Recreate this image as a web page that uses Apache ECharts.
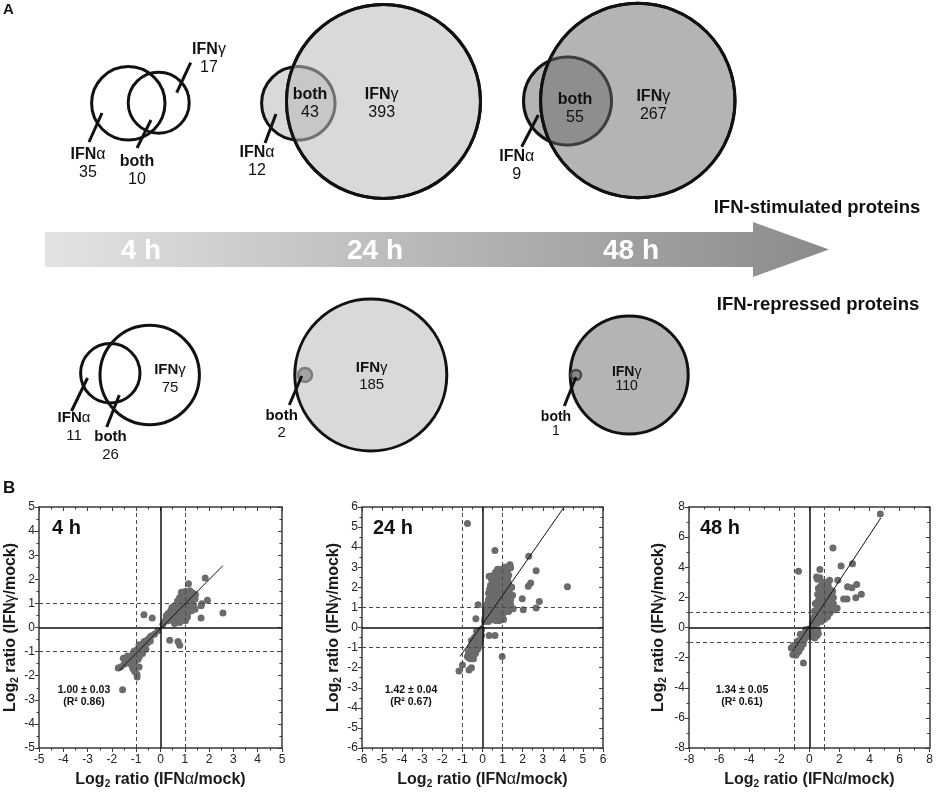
<!DOCTYPE html>
<html>
<head>
<meta charset="utf-8">
<script src="https://cdn.jsdelivr.net/npm/echarts/dist/echarts.min.js"></script>
<style>
  html, body { margin: 0; padding: 0; background: #fff; }
  #chart { width: 936px; height: 797px; }
</style>
</head>
<body>
<div id="chart"></div>
<script>
const FONT = "Liberation Sans, Arial, sans-serif";

// ---- panel A: protein counts per time point ----
const timeLabels = ["4 h", "24 h", "48 h"];
const stimAlphaOnly = [35, 12, 9];
const stimBoth = [10, 43, 55];
const stimGammaOnly = [17, 393, 267];
const repAlphaOnly = [11, null, null];
const repBoth = [26, 2, 1];
const repGammaOnly = [75, 185, 110];

// ---- panel B: log2 ratios (IFNa/mock, IFNg/mock) ----
const pts4h = [
  [1.84,2.05],[1.15,1.82],[1.93,1.13],[1.70,0.99],[1.67,0.90],[2.57,0.60],[1.67,0.39],
  [-0.68,0.53],[-0.34,0.39],[0.38,-0.53],[0.72,-0.58],[0.79,-0.74],[-1.56,-2.58],[-0.96,-2.05],[-1.74,-1.68],
  [0.86,1.46],[1.03,1.50],[1.21,1.53],[1.35,1.42],[1.44,1.36],[1.28,1.25],[1.11,1.28],[0.93,1.32],
  [0.79,1.25],[0.75,1.11],[0.93,1.14],[1.14,1.11],[1.31,1.11],[1.42,1.18],[1.25,0.94],[1.07,0.94],
  [0.89,0.97],[0.69,0.97],[0.58,0.90],[0.47,0.83],[0.65,0.76],[0.83,0.81],[1.03,0.76],[1.21,0.83],
  [1.35,0.90],[1.14,0.63],[0.97,0.58],[0.79,0.63],[0.58,0.67],[0.42,0.69],[0.31,0.58],[0.24,0.49],
  [0.38,0.44],[0.56,0.49],[0.72,0.42],[0.93,0.42],[1.11,0.44],[1.03,0.28],[0.83,0.31],[0.65,0.28],
  [0.47,0.31],[0.31,0.28],[0.17,0.25],[0.24,0.39],[0.10,0.14],[0.58,0.17],[0.79,0.21],[1.42,0.76],
  [1.28,0.69],[1.07,0.56],[0.97,0.83],[0.70,1.10],[1.00,1.40],[0.52,0.60],[0.88,0.68],[1.18,1.00],
  [-0.11,-0.14],[-0.25,-0.28],[-0.39,-0.35],[-0.46,-0.44],[-0.56,-0.53],[-0.67,-0.58],[-0.53,-0.63],
  [-0.74,-0.69],[-0.64,-0.76],[-0.83,-0.83],[-0.88,-0.72],[-0.94,-0.90],[-0.81,-0.97],[-1.01,-1.04],
  [-1.08,-0.97],[-1.15,-1.14],[-0.97,-1.14],[-1.22,-1.25],[-1.29,-1.32],[-1.11,-1.32],[-1.36,-1.39],
  [-1.43,-1.46],[-1.50,-1.53],[-1.25,-1.50],[-1.06,-1.46],[-0.92,-1.32],[-0.74,-1.08],[-0.60,-0.90],
  [-1.53,-1.28],[-1.36,-1.18],[-1.15,-1.67],[-1.06,-1.83],[-0.97,-1.94],[-1.11,-1.74],[-1.64,-1.64],
  [-0.88,-1.64],[-0.42,-0.56],[-0.86,-1.18],[-1.20,-1.42],[-0.70,-0.85]
];
const pts24h = [
  [-0.75,5.18],[0.62,3.83],[2.30,3.55],[2.67,2.83],[4.23,2.03],[2.40,2.22],[2.28,2.05],[1.98,1.43],
  [2.83,1.30],[2.67,0.97],[2.03,0.88],[1.53,0.93],[1.37,3.13],[1.40,2.97],[0.33,2.55],[0.45,2.47],
  [-0.22,1.13],[-0.33,0.43],[0.33,-0.40],[0.62,-0.40],[0.98,-1.45],[-1.17,-2.17],[-1.00,-1.87],
  [-0.67,-2.12],[-0.55,-2.00],[1.45,2.00],[1.25,0.97],
  [0.10,0.30],[0.15,0.50],[0.20,0.70],[0.25,0.40],[0.30,0.60],[0.35,0.90],[0.40,0.50],[0.45,0.80],
  [0.50,0.40],[0.55,0.70],[0.60,0.55],[0.65,0.35],[0.70,0.60],[0.80,0.50],[0.90,0.45],[0.95,0.70],
  [0.20,1.00],[0.25,1.20],[0.30,1.40],[0.35,1.10],[0.40,1.30],[0.45,1.60],[0.50,1.00],[0.55,1.20],
  [0.60,1.45],[0.65,0.95],[0.70,1.20],[0.75,1.50],[0.80,0.90],[0.85,1.15],[0.90,1.40],[1.00,1.00],
  [1.05,1.25],[1.10,0.85],[1.20,1.10],[1.30,0.80],[0.30,1.70],[0.35,1.90],[0.40,2.10],[0.45,1.80],
  [0.50,2.00],[0.55,2.30],[0.60,1.75],[0.65,2.10],[0.70,2.40],[0.75,1.85],[0.80,2.15],[0.85,2.50],
  [0.90,1.80],[0.95,2.20],[1.00,2.60],[1.05,1.90],[1.10,2.30],[1.15,2.00],[1.20,2.70],[1.25,2.40],
  [1.30,2.20],[1.35,1.70],[0.55,2.60],[0.65,2.75],[0.80,2.80],[0.95,2.90],[1.10,3.00],[1.25,2.85],
  [1.35,3.10],[0.45,2.40],[1.40,1.40],[1.50,1.60],[1.20,1.50],[1.10,1.70],[1.45,2.00],[0.75,0.75],
  [0.85,0.35],[1.00,0.60],[0.90,0.60],[1.05,0.40],
  [0.15,0.80],[0.20,0.55],[0.25,0.85],[0.30,1.05],[0.35,0.70],[0.40,0.95],[0.45,1.15],[0.50,0.75],
  [0.50,1.40],[0.55,0.95],[0.60,1.15],[0.65,1.60],[0.70,0.85],[0.75,1.10],[0.80,1.30],[0.85,0.80],
  [0.90,1.00],[0.95,1.50],[1.00,1.30],[1.05,0.75],[1.15,1.35],[0.35,1.45],[0.40,1.75],[0.45,2.00],
  [0.50,1.65],[0.55,1.85],[0.60,2.05],[0.65,2.35],[0.70,1.75],[0.75,2.10],[0.80,1.60],[0.85,1.90],
  [0.90,2.35],[0.95,1.65],[1.00,2.05],[1.05,2.45],[1.10,2.00],[1.15,2.55],[1.20,2.20],[1.25,1.90],
  [1.30,2.60],[1.15,1.40],[0.60,2.45],[0.70,2.60],[0.85,2.65],[1.00,2.75],[0.75,2.90],[1.15,2.80],
  [1.30,2.95],[0.25,0.60],[0.12,0.45],[0.30,0.30],[0.55,0.45],[0.70,0.45],[0.75,0.35],[0.90,0.80],
  [1.20,0.90],[1.40,1.15],[1.25,1.25],
  [-0.05,-0.10],[-0.10,-0.30],[-0.15,-0.15],[-0.20,-0.45],[-0.25,-0.30],[-0.30,-0.60],[-0.15,-0.55],
  [-0.35,-0.80],[-0.20,-0.75],[-0.40,-0.50],[-0.45,-1.00],[-0.30,-0.95],[-0.50,-0.80],[-0.55,-1.20],
  [-0.40,-1.15],[-0.60,-1.00],[-0.65,-1.35],[-0.50,-1.40],[-0.35,-1.30],[-0.70,-1.20],[-0.25,-1.10],
  [-0.45,-1.55],[-0.60,-1.55],[-0.10,-0.60],[-0.05,-0.40],[-0.30,-0.20],[-0.75,-1.45],[-0.55,-0.65],
  [-0.20,-1.00],[-0.08,-0.20],[-0.12,-0.45],[-0.18,-0.30],[-0.22,-0.60],[-0.28,-0.45],[-0.33,-0.65],
  [-0.38,-0.95],[-0.42,-0.70],[-0.48,-1.20],[-0.52,-0.95],[-0.58,-1.35],[-0.62,-1.15],[-0.68,-1.50],
  [-0.35,-1.05],[-0.25,-0.85],[-0.15,-0.80],[-0.42,-1.35],[-0.55,-1.50],[-0.08,-0.50]
];
const pts48h = [
  [4.72,7.54],[1.57,5.27],[-0.72,3.74],[2.87,4.24],[2.11,4.09],[0.70,3.85],[0.48,3.36],[0.54,3.21],
  [1.35,3.14],[1.20,2.99],[1.89,3.14],[2.54,2.70],[2.83,2.64],[3.15,2.86],[3.46,2.20],[3.09,1.98],
  [2.28,1.89],[2.50,1.89],[1.85,1.27],[1.67,1.16],[-0.39,-2.35],[-1.20,-1.36],[-1.10,-1.80],
  [0.20,0.30],[0.30,0.60],[0.40,0.40],[0.45,0.90],[0.50,0.65],[0.55,1.20],[0.60,0.90],[0.65,0.50],
  [0.70,1.10],[0.75,1.40],[0.80,0.80],[0.85,1.60],[0.90,1.20],[0.95,1.90],[1.00,1.00],[1.05,1.50],
  [1.10,2.10],[1.15,1.75],[1.20,1.30],[1.25,2.30],[1.30,1.90],[1.35,1.55],[1.40,2.50],[1.45,2.10],
  [1.50,1.70],[0.50,1.50],[0.60,1.80],[0.70,2.00],[0.80,2.30],[0.90,2.55],[1.00,2.80],[0.60,2.60],
  [0.75,2.75],[1.10,2.60],[1.25,2.80],[1.55,2.40],[0.35,1.10],[0.40,1.60],[0.55,2.20],[0.65,1.45],
  [0.95,1.25],[1.10,0.90],[1.30,1.10],[1.45,1.30],[1.60,1.60],[0.80,0.40],[1.00,0.55],[0.30,0.20],
  [0.90,3.00],[1.20,3.00],[0.70,3.30],[0.85,2.00],[1.05,2.25],[1.60,2.00],
  [0.25,0.45],[0.35,0.75],[0.45,0.55],[0.50,1.05],[0.60,1.30],[0.70,0.75],[0.75,1.00],[0.80,1.20],
  [0.85,1.35],[0.90,1.75],[0.95,1.45],[1.00,2.00],[1.05,1.80],[1.10,1.35],[1.15,2.40],[1.20,1.95],
  [1.25,1.60],[1.30,2.50],[1.35,2.15],[1.40,1.85],[0.65,2.15],[0.75,2.35],[0.85,2.45],[0.95,2.20],
  [1.05,2.65],[0.70,1.65],[0.60,1.05],[0.40,0.90],[0.55,0.30],[0.90,0.60],[1.20,0.70],[1.35,0.95],
  [-0.05,-0.10],[0.00,-0.40],[-0.15,-0.30],[-0.20,-0.60],[-0.30,-0.50],[-0.35,-0.85],[-0.45,-0.70],
  [-0.50,-1.05],[-0.60,-0.90],[-0.65,-1.20],[-0.75,-1.10],[-0.80,-1.40],[-0.90,-1.30],[-0.95,-1.60],
  [-1.00,-1.45],[-0.70,-1.60],[-0.55,-1.35],[-0.85,-1.75],[-0.40,-1.10],[0.20,-0.20],[0.30,-0.45],
  [0.40,-0.30],[0.50,-0.55],[0.55,-0.15],[0.35,-0.70],[0.10,-0.60],[0.60,-0.40],[-0.25,-0.15],
  [-1.05,-1.20],[-0.60,-0.45],[-0.10,-0.25],[-0.25,-0.40],[-0.30,-0.70],[-0.40,-0.55],[-0.50,-0.85],
  [-0.55,-1.15],[-0.70,-1.35],[-0.85,-1.50],[-0.90,-1.85],[0.15,-0.40],[0.25,-0.60],[0.45,-0.45],
  [0.05,-0.20],[-0.75,-0.90]
];
const fit4h = [[-1.70,-1.78],[2.57,2.57]];
const fit24h = [[-1.12,-1.44],[4.03,5.95]];
const fit48h = [[-1.10,-1.58],[4.75,7.27]];
const slopeText = ["1.00 \u00b1 0.03", "1.42 \u00b1 0.04", "1.34 \u00b1 0.05"];
const r2Text = ["0.86", "0.67", "0.61"];
const axisLimit = [5, 6, 8];
const axisStep = [1, 1, 2];
const refLines = [-1, 1];

const scatterSets = [pts4h, pts24h, pts48h];
const fitSets = [fit4h, fit24h, fit48h];

// ---- layout (pixel space of the hidden panel A grid) ----
const vennLayout = [
  { alpha: [128.3, 103.3, 36.7], gamma: [158.7, 102.7, 30.5], fill: "none",
    lab: { alpha: [88, 155], both: [137, 162], gamma: [209, 50] },
    lead: { alpha: [89, 142, 102, 113], both: [137, 148, 151, 120], gamma: [190.7, 62.7, 176.7, 92.7] } },
  { alpha: [298.3, 103.3, 36.7], gamma: [383.5, 101.5, 97], fill: "#d9d9d9", lens: "#c7c7c7", lensStroke: "#707070",
    lab: { alpha: [257, 153], both: [310, 95], gamma: [381.7, 95] },
    lead: { alpha: [265, 143, 276, 114] } },
  { alpha: [567.5, 101, 44], gamma: [637.8, 100.5, 97.2], fill: "#b4b4b4", lens: "#8e8e8e", lensStroke: "#3d3d3d",
    lab: { alpha: [516.7, 156.7], both: [575, 100], gamma: [653.3, 96.7] },
    lead: { alpha: [521.7, 146.7, 538.3, 115] } },
  { alpha: [110.3, 373.3, 29.7], gamma: [149.7, 375, 49.7], fill: "none",
    lab: { alpha: [74, 418], both: [110.5, 437], gamma: [170, 370] }, size: 15,
    lead: { alpha: [71.5, 411, 87.5, 378], both: [106.7, 427, 119.3, 395] } },
  { gamma: [370.8, 375, 76], dot: [305, 375, 7], fill: "#d9d9d9", dotFill: "#a3a3a3", dotStroke: "#7d7d7d",
    lab: { both: [281.7, 416], gamma: [371.7, 368] }, size: 15, gap: 17,
    lead: { both: [289.3, 405, 301.7, 376] } },
  { gamma: [629.2, 375, 59], dot: [576, 375, 5], fill: "#b4b4b4", dotFill: "#8a8a8a", dotStroke: "#4a4a4a",
    lab: { both: [556, 417], gamma: [626.7, 372] }, size: 14, gap: 14.5,
    lead: { both: [564.3, 406, 576, 377] } }
];
const gridBoxes = [[39, 507, 243, 241], [362, 507, 241, 241], [689, 507, 242, 241]];
const yNameGap = [19, 16, 21];
const titleX = [52, 373, 700];
const statX = [84, 411, 742];

function lensPoints(c1, c2) {
  const dx = c2[0] - c1[0], dy = c2[1] - c1[1];
  const d = Math.hypot(dx, dy), th = Math.atan2(dy, dx);
  const a = (c1[2] * c1[2] - c2[2] * c2[2] + d * d) / (2 * d);
  const a1 = Math.acos(Math.max(-1, Math.min(1, a / c1[2])));
  const a2 = Math.acos(Math.max(-1, Math.min(1, (d - a) / c2[2])));
  const pts = [], n = 60;
  for (let k = 0; k <= n; k++) {
    const ang = th - a1 + (2 * a1 * k) / n;
    pts.push([c1[0] + c1[2] * Math.cos(ang), c1[1] + c1[2] * Math.sin(ang)]);
  }
  for (let k = 0; k <= n; k++) {
    const ang = th + Math.PI - a2 + (2 * a2 * k) / n;
    pts.push([c2[0] + c2[2] * Math.cos(ang), c2[1] + c2[2] * Math.sin(ang)]);
  }
  return pts;
}

function renderVenn(params, api) {
  const i = params.dataIndex;
  const d = vennLayout[i];
  const t = i % 3, stim = i < 3;
  const counts = {
    alpha: stim ? stimAlphaOnly[t] : repAlphaOnly[t],
    both: stim ? stimBoth[t] : repBoth[t],
    gamma: stim ? stimGammaOnly[t] : repGammaOnly[t]
  };
  const names = { alpha: "{b|IFN}{g|\u03b1}", both: "{b|both}", gamma: "{b|IFN}{g|\u03b3}" };
  const toPx = (c) => {
    const p = api.coord([c[0], c[1]]);
    return [p[0], p[1], api.size([c[2], c[2]])[0]];
  };
  const circ = (c, style) => ({ type: "circle", shape: { cx: c[0], cy: c[1], r: c[2] }, style: style });
  const kids = [];
  const black = "#111";
  const A = d.alpha ? toPx(d.alpha) : null;
  const G = toPx(d.gamma);
  if (A) kids.push(circ(A, { fill: d.fill, stroke: black, lineWidth: 3 }));
  kids.push(circ(G, { fill: d.fill, stroke: black, lineWidth: 3 }));
  if (d.lens) {
    kids.push({ type: "polygon", shape: { points: lensPoints(A, G) },
      style: { fill: d.lens, stroke: d.lensStroke, lineWidth: 3 } });
    kids.push(circ(G, { fill: "none", stroke: black, lineWidth: 3 }));
  }
  if (d.dot) kids.push(circ(toPx(d.dot), { fill: d.dotFill, stroke: d.dotStroke, lineWidth: 2.5 }));
  Object.keys(d.lead || {}).forEach((k) => {
    const l = d.lead[k];
    const p1 = api.coord([l[0], l[1]]), p2 = api.coord([l[2], l[3]]);
    kids.push({ type: "line", shape: { x1: p1[0], y1: p1[1], x2: p2[0], y2: p2[1] },
      style: { stroke: black, lineWidth: 3 } });
  });
  const gap = d.gap || 18, fs = d.size || 16;
  Object.keys(d.lab).forEach((k) => {
    const p = api.coord(d.lab[k]);
    kids.push({ type: "text", x: p[0], y: p[1], style: { text: names[k], fill: black,
      textAlign: "center", textVerticalAlign: "middle",
      rich: {
        b: { fontFamily: FONT, fontSize: fs, fontWeight: "bold", fill: black },
        g: { fontFamily: FONT, fontSize: fs, fontWeight: "normal", fill: black }
      } } });
    kids.push({ type: "text", x: p[0], y: p[1] + gap, style: { text: String(counts[k]), fill: black,
      fontFamily: FONT, fontSize: fs, textAlign: "center", textVerticalAlign: "middle" } });
  });
  return { type: "group", children: kids };
}

const axisColor = "#3a3a3a";
function makeAxis(i, dim, pos, main) {
  const lim = axisLimit[i];
  const ax = {
    gridIndex: i + 1, type: "value", position: pos, min: -lim, max: lim, interval: axisStep[i],
    splitLine: { show: false },
    axisLine: { onZero: false, lineStyle: { color: axisColor, width: 1.5 } },
    axisTick: { inside: !main, length: 4, lineStyle: { color: axisColor, width: 1 } },
    minorTick: { show: true, splitNumber: 2, length: 2.5, lineStyle: { color: axisColor, width: 1 } },
    axisLabel: { show: main, fontFamily: FONT, fontSize: 12, color: "#222", margin: dim === "x" ? 6 : 4 }
  };
  if (main) {
    const g = dim === "x" ? "\u03b1" : "\u03b3";
    ax.name = "{n|Log}{s|2}{n| ratio (IFN}{g|" + g + "}{n|/mock)}";
    ax.nameLocation = "middle";
    ax.nameGap = dim === "x" ? 22 : yNameGap[i];
    ax.nameTextStyle = {
      rich: {
        n: { fontFamily: FONT, fontSize: 16, fontWeight: "bold", color: "#1a1a1a" },
        g: { fontFamily: FONT, fontSize: 16, fontWeight: "normal", color: "#1a1a1a" },
        s: { fontFamily: FONT, fontSize: 10, fontWeight: "bold", color: "#1a1a1a", padding: [9, 0, 0, 0] }
      }
    };
  }
  return ax;
}

const grids = [{ left: 0, top: 0, width: 936, height: 797 }];
const xAxes = [{ gridIndex: 0, type: "value", min: 0, max: 936, show: false }];
const yAxes = [{ gridIndex: 0, type: "value", min: 0, max: 797, inverse: true, show: false }];
const series = [{
  type: "custom", xAxisIndex: 0, yAxisIndex: 0, clip: false, silent: true,
  data: vennLayout.map((d) => [d.gamma[0], d.gamma[1]]),
  renderItem: renderVenn
}];

const solid = { type: "solid", color: "#111", width: 1.5 };
const dashed = { type: [4, 3], color: "#4a4a4a", width: 1 };

for (let i = 0; i < 3; i++) {
  const b = gridBoxes[i];
  grids.push({ left: b[0], top: b[1], width: b[2], height: b[3] });
  xAxes.push(makeAxis(i, "x", "bottom", true), makeAxis(i, "x", "top", false));
  yAxes.push(makeAxis(i, "y", "left", true), makeAxis(i, "y", "right", false));
  const xi = 1 + 2 * i;
  const marks = [{ xAxis: 0, lineStyle: solid }, { yAxis: 0, lineStyle: solid }];
  refLines.forEach((v) => {
    marks.push({ xAxis: v, lineStyle: dashed }, { yAxis: v, lineStyle: dashed });
  });
  series.push({
    type: "scatter", xAxisIndex: xi, yAxisIndex: xi, data: [], z: 1, silent: true,
    markLine: { silent: true, symbol: "none", label: { show: false }, data: marks }
  });
  series.push({
    type: "scatter", xAxisIndex: xi, yAxisIndex: xi, data: scatterSets[i], z: 3,
    symbolSize: 7, itemStyle: { color: "#6b6b6b", opacity: 1 }
  });
  series.push({
    type: "line", xAxisIndex: xi, yAxisIndex: xi, data: fitSets[i], z: 4,
    symbol: "none", lineStyle: { color: "#111", width: 1 }
  });
}

const txt = (x, y, text, size, weight, fill, align) => ({
  type: "text", x: x, y: y, z: 10,
  style: { text: text, fontFamily: FONT, fontSize: size, fontWeight: weight || "normal",
    fill: fill || "#111", textAlign: align || "center", textVerticalAlign: "middle" }
});

const graphics = [
  txt(3, 10, "A", 15, "bold", "#111", "left"),
  txt(3, 488, "B", 17, "bold", "#111", "left"),
  {
    type: "polygon", z: 1,
    shape: { points: [[45, 232], [753, 232], [753, 222], [829, 249.5], [753, 277], [753, 267], [45, 267]] },
    style: { fill: new echarts.graphic.LinearGradient(0, 0, 1, 0, [
      { offset: 0, color: "#e3e3e3" }, { offset: 1, color: "#8a8a8a" }]) }
  },
  txt(141, 251, timeLabels[0], 28, "bold", "#fff"),
  txt(375, 251, timeLabels[1], 28, "bold", "#fff"),
  txt(631, 251, timeLabels[2], 28, "bold", "#fff"),
  txt(817, 208, "IFN-stimulated proteins", 18.5, "bold"),
  txt(818, 305, "IFN-repressed proteins", 18.5, "bold")
];
for (let i = 0; i < 3; i++) {
  graphics.push(txt(titleX[i], 528, timeLabels[i], 20, "bold", "#111", "left"));
  graphics.push(txt(statX[i], 690, slopeText[i], 10.5, "bold"));
  graphics.push(txt(statX[i], 702, "(R\u00b2 " + r2Text[i] + ")", 10.5, "bold"));
}

const chart = echarts.init(document.getElementById("chart"));
chart.setOption({
  animation: false,
  backgroundColor: "#fff",
  grid: grids,
  xAxis: xAxes,
  yAxis: yAxes,
  series: series,
  graphic: graphics
});
</script>
</body>
</html>
